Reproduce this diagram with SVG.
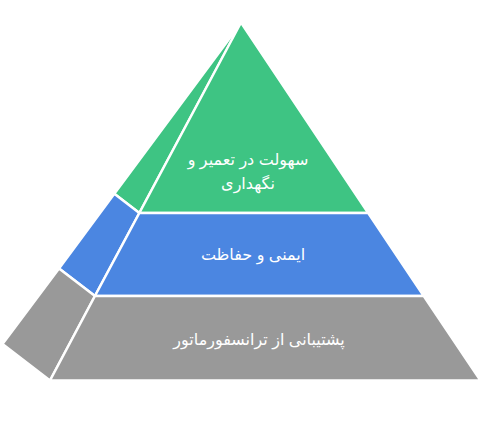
<svg xmlns="http://www.w3.org/2000/svg" width="501" height="431" viewBox="0 0 501 431">
<style>
.g{fill:#3ec483}.b{fill:#4b86e1}.y{fill:#999999}
polygon{stroke:#ffffff;stroke-width:2.5;stroke-linejoin:round}
text{font-family:"Liberation Sans","DejaVu Sans","Noto Sans",sans-serif;font-size:16px;fill:#ffffff;text-anchor:middle;direction:rtl}
</style>
<rect width="501" height="431" fill="#ffffff"/>
<g id="side">
<polygon class="g" points="241,23 114.3,193.8 139.35,213"/>
<polygon class="b" points="114.3,193.8 59,268.5 94.94,296 139.35,213"/>
<polygon class="y" points="59,268.5 2.5,344 50,380.5 94.94,296"/>
</g>
<g id="node-top">
<polygon class="g" points="241,22.5 139.35,213 368.2,213"/>
<text x="248" y="165">سهولت در تعمیر و</text>
<text x="248" y="189">نگهداری</text>
</g>
<g id="node-middle">
<polygon class="b" points="139.35,213 94.94,296 423.76,296 368.2,213"/>
<text x="253" y="260">ایمنی و حفاظت</text>
</g>
<g id="node-bottom">
<polygon class="y" points="94.94,296 50,380.5 480.5,380.5 423.76,296"/>
<text x="259" y="345">پشتیبانی از ترانسفورماتور</text>
</g>
<g id="connectors"></g>
</svg>
